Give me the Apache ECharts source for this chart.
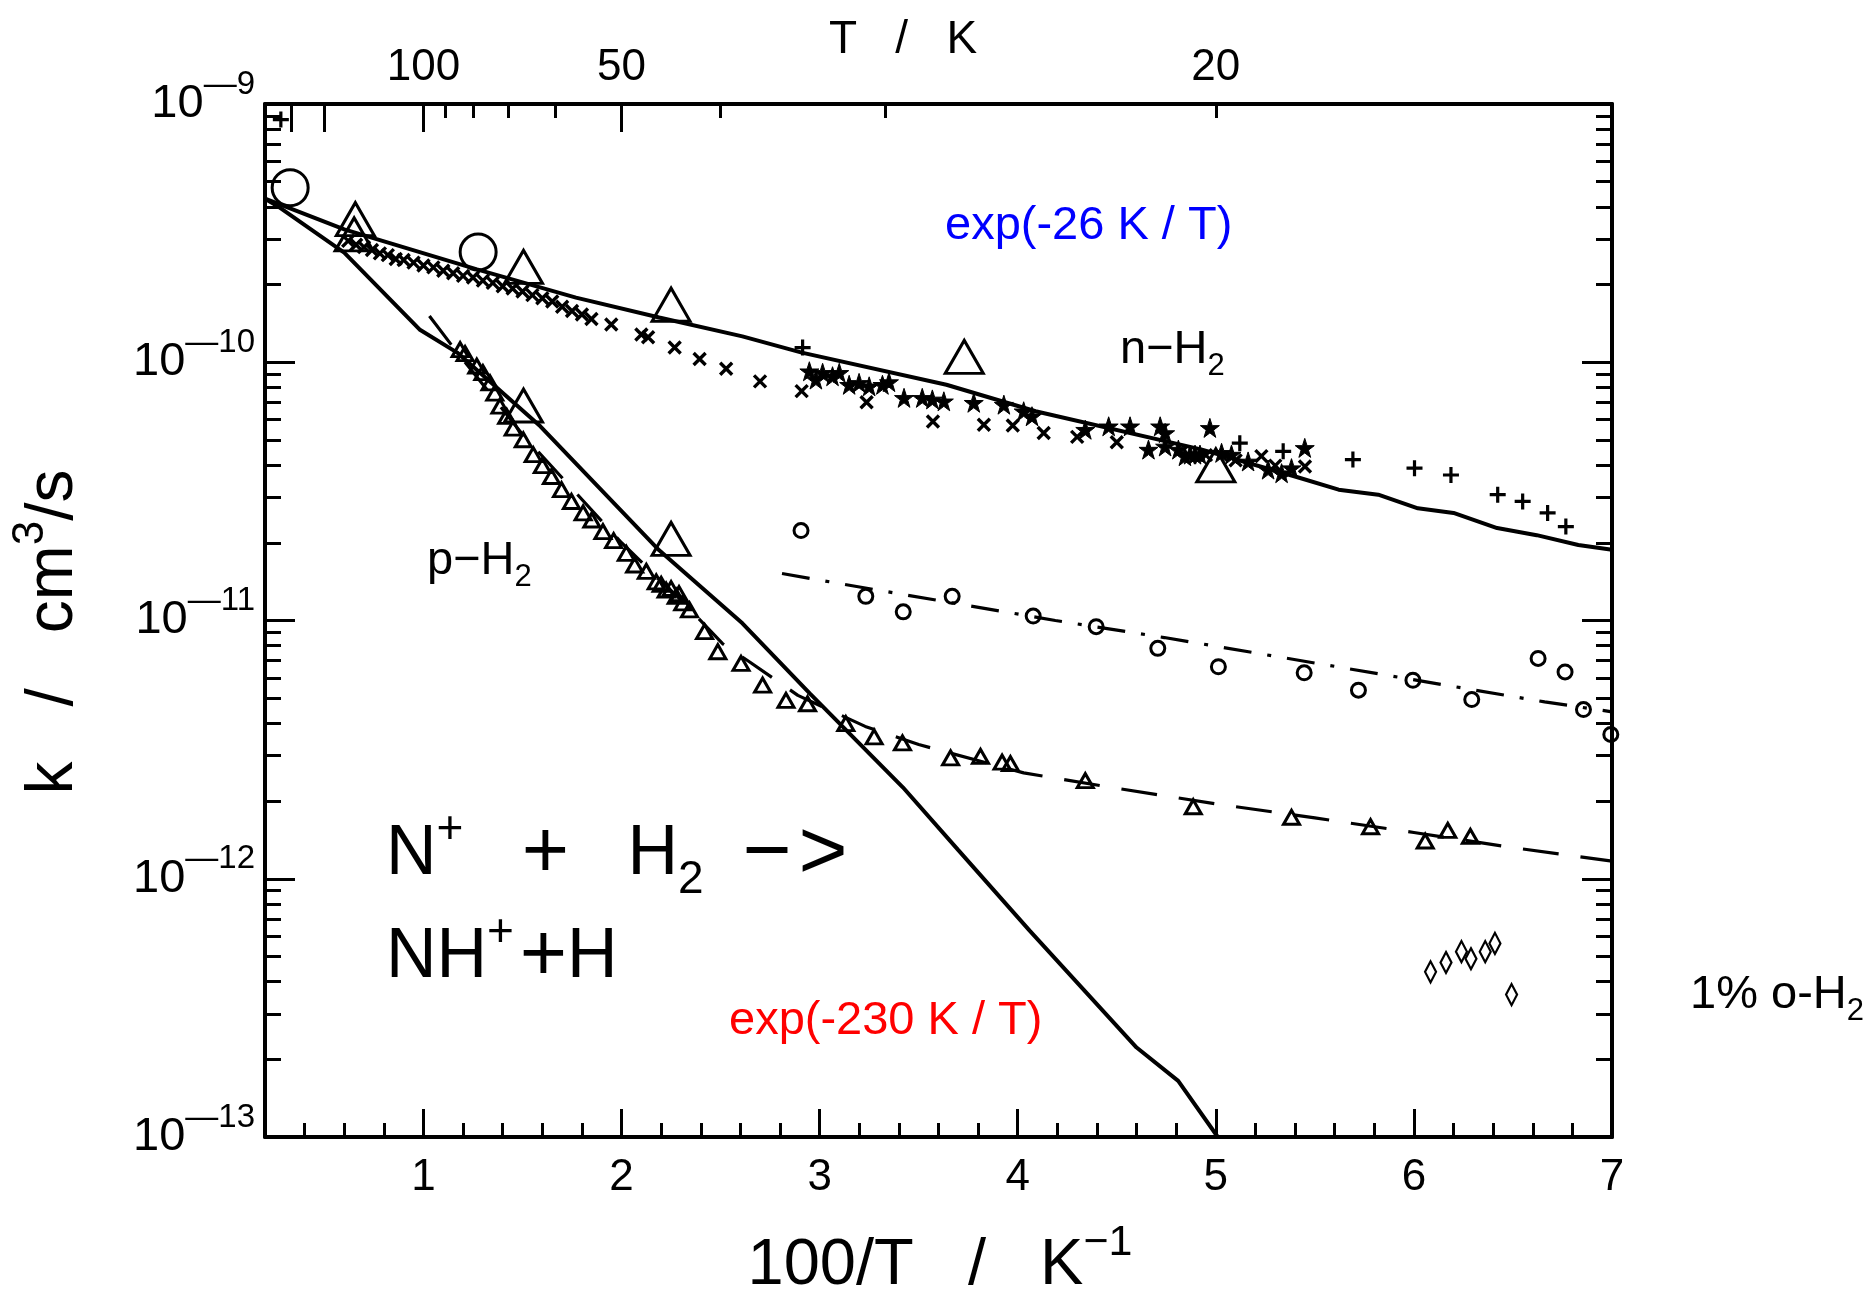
<!DOCTYPE html>
<html>
<head>
<meta charset="utf-8">
<script src="https://cdn.jsdelivr.net/npm/echarts@6/dist/echarts.min.js"></script>
<style>
  html, body { margin: 0; padding: 0; background: #fff; }
  #chart { width: 1871px; height: 1297px; }
</style>
</head>
<body>
<div id="chart"></div>
<script>
// Rate coefficient k (cm^3/s) of N+ + H2 -> NH+ + H versus 100/T (1/K).
// Every point is [100/T, k].

// Solid curve through the normal-H2 data
const curveNormalH2 = [
  [0.20, 4.30e-10], [0.60, 3.27e-10], [1.27, 2.29e-10], [1.77, 1.78e-10],
  [2.19, 1.49e-10], [2.61, 1.26e-10], [2.91, 1.09e-10], [3.64, 8.18e-11],
  [4.09, 6.46e-11], [4.93, 4.59e-11], [5.40, 3.61e-11], [5.62, 3.21e-11],
  [5.82, 3.07e-11], [6.02, 2.72e-11], [6.20, 2.61e-11], [6.42, 2.28e-11],
  [6.62, 2.14e-11], [6.83, 1.96e-11], [7.00, 1.88e-11]
];

// Solid curve through the para-H2 data
const curveParaH2 = [
  [0.20, 4.30e-10], [0.26, 4.04e-10], [0.60, 2.66e-10], [0.98, 1.34e-10],
  [1.17, 1.09e-10], [1.59, 5.65e-11], [2.19, 1.87e-11], [2.61, 9.75e-12],
  [2.95, 5.22e-12], [3.42, 2.26e-12], [3.70, 1.29e-12], [4.06, 6.30e-13],
  [4.60, 2.22e-13], [4.81, 1.65e-13], [5.01, 1.00e-13]
];

// Dashed fit through the small triangles
const fitParaDashed = [
  [1.03, 1.51e-10], [1.14, 1.17e-10], [1.50, 5.25e-11], [2.00, 2.00e-11],
  [2.30, 1.20e-11], [2.51, 8.13e-12], [2.645, 6.92e-12], [2.89, 5.13e-12],
  [3.23, 3.89e-12], [3.50, 3.31e-12], [4.03, 2.57e-12], [4.50, 2.24e-12],
  [5.00, 1.95e-12], [5.50, 1.72e-12], [6.00, 1.51e-12], [6.50, 1.32e-12],
  [7.00, 1.17e-12]
];

// Dash-dot fit through the small circles
const fitDashDot = [
  [2.81, 1.52e-11], [3.10, 1.39e-11], [4.19, 1.00e-11], [4.74, 8.59e-12],
  [6.66, 4.84e-12], [7.00, 4.43e-12]
];

const bigCircles = [[0.327, 4.74e-10], [1.276, 2.67e-10]];

const bigTriangles = [
  [0.656, 3.58e-10], [0.650, 3.13e-10], [1.505, 2.34e-10], [2.25, 1.67e-10],
  [3.73, 1.05e-10], [5.00, 3.99e-11], [1.505, 6.80e-11], [2.25, 2.07e-11]
];

const crossPoints = [
  [0.62, 2.95e-10], [0.66, 2.85e-10], [0.70, 2.79e-10], [0.74, 2.72e-10],
  [0.78, 2.64e-10], [0.82, 2.60e-10], [0.86, 2.51e-10], [0.90, 2.49e-10],
  [0.95, 2.43e-10], [1.00, 2.37e-10], [1.05, 2.33e-10], [1.10, 2.26e-10],
  [1.15, 2.21e-10], [1.20, 2.16e-10], [1.25, 2.13e-10], [1.30, 2.07e-10],
  [1.35, 2.03e-10], [1.40, 1.97e-10], [1.45, 1.93e-10], [1.50, 1.88e-10],
  [1.55, 1.82e-10], [1.60, 1.77e-10], [1.65, 1.72e-10], [1.70, 1.64e-10],
  [1.75, 1.58e-10], [1.80, 1.53e-10], [1.848, 1.47e-10], [1.948, 1.40e-10],
  [2.10, 1.28e-10], [2.134, 1.25e-10], [2.268, 1.14e-10], [2.394, 1.03e-10],
  [2.528, 9.44e-11], [2.699, 8.43e-11], [2.909, 7.73e-11], [3.237, 7.00e-11],
  [3.572, 5.90e-11], [3.829, 5.73e-11], [3.975, 5.69e-11], [4.131, 5.32e-11],
  [4.30, 5.14e-11], [4.50, 4.90e-11], [4.95, 4.37e-11], [5.10, 4.17e-11],
  [5.23, 4.33e-11], [5.30, 3.98e-11], [5.45, 3.95e-11]
];

const starPoints = [
  [2.948, 9.23e-11], [2.981, 8.57e-11], [3.015, 9.10e-11], [3.065, 8.83e-11],
  [3.099, 9.10e-11], [3.149, 8.18e-11], [3.199, 8.32e-11], [3.250, 8.07e-11],
  [3.317, 8.18e-11], [3.350, 8.38e-11], [3.426, 7.28e-11], [3.518, 7.28e-11],
  [3.569, 7.18e-11], [3.627, 7.06e-11], [3.778, 6.97e-11], [3.930, 6.85e-11],
  [4.030, 6.46e-11], [4.072, 6.18e-11], [4.341, 5.48e-11], [4.459, 5.65e-11],
  [4.567, 5.65e-11], [4.719, 5.65e-11], [4.660, 4.59e-11], [4.744, 4.72e-11],
  [4.811, 4.59e-11], [4.870, 4.39e-11], [4.920, 4.39e-11], [4.744, 5.32e-11],
  [4.844, 4.33e-11], [4.895, 4.39e-11], [4.970, 5.57e-11], [5.029, 4.46e-11],
  [5.079, 4.39e-11], [5.163, 4.13e-11], [5.264, 3.84e-11], [5.332, 3.72e-11],
  [5.382, 3.89e-11], [5.449, 4.66e-11]
];

const plusPoints = [
  [0.28, 8.70e-10], [2.914, 1.14e-10], [5.121, 4.86e-11], [5.340, 4.52e-11],
  [5.692, 4.20e-11], [6.003, 3.89e-11], [6.187, 3.66e-11], [6.423, 3.07e-11],
  [6.549, 2.89e-11], [6.675, 2.61e-11], [6.767, 2.31e-11]
];

const smallTriangles = [
  [1.185, 1.12e-10], [1.21, 1.08e-10], [1.269, 9.66e-11], [1.30, 9.12e-11],
  [1.336, 8.32e-11], [1.36, 7.59e-11], [1.386, 6.76e-11], [1.42, 6.17e-11],
  [1.453, 5.56e-11], [1.504, 5.01e-11], [1.554, 4.39e-11], [1.60, 3.98e-11],
  [1.646, 3.61e-11], [1.697, 3.21e-11], [1.747, 2.89e-11], [1.806, 2.61e-11],
  [1.85, 2.45e-11], [1.906, 2.21e-11], [1.96, 2.04e-11], [2.024, 1.82e-11],
  [2.066, 1.64e-11], [2.125, 1.55e-11], [2.175, 1.41e-11], [2.20, 1.38e-11],
  [2.225, 1.31e-11], [2.25, 1.33e-11], [2.276, 1.24e-11], [2.29, 1.27e-11],
  [2.309, 1.17e-11], [2.343, 1.10e-11], [2.419, 9.06e-12], [2.486, 7.57e-12],
  [2.603, 6.82e-12], [2.712, 5.62e-12], [2.830, 4.91e-12], [2.939, 4.76e-12],
  [3.132, 3.99e-12], [3.275, 3.54e-12], [3.418, 3.36e-12], [3.661, 2.94e-12],
  [3.812, 2.98e-12], [3.921, 2.83e-12], [3.963, 2.79e-12], [4.341, 2.40e-12],
  [4.886, 1.90e-12], [5.382, 1.73e-12], [5.781, 1.59e-12], [6.057, 1.40e-12],
  [6.171, 1.54e-12], [6.285, 1.46e-12]
];

const smallCircles = [
  [2.906, 2.23e-11], [3.233, 1.24e-11], [3.422, 1.08e-11], [3.669, 1.24e-11],
  [4.078, 1.04e-11], [4.396, 9.46e-12], [4.707, 7.80e-12], [5.013, 6.62e-12],
  [5.446, 6.27e-12], [5.720, 5.37e-12], [5.995, 5.87e-12], [6.292, 4.94e-12],
  [6.627, 7.13e-12], [6.763, 6.32e-12], [6.856, 4.52e-12], [6.994, 3.62e-12]
];

// 1% ortho-H2 admixture
const diamondPoints = [
  [6.084, 4.36e-13], [6.162, 4.74e-13], [6.240, 5.22e-13], [6.288, 4.90e-13],
  [6.360, 5.22e-13], [6.409, 5.62e-13], [6.493, 3.56e-13]
];

// Tick positions
const xMajorTicks = [1, 2, 3, 4, 5, 6, 7];
const xMinorTicks = [0.4, 0.6, 0.8, 1.2, 1.4, 1.6, 1.8, 2.2, 2.4, 2.6, 2.8,
  3.2, 3.4, 3.6, 3.8, 4.2, 4.4, 4.6, 4.8, 5.2, 5.4, 5.6, 5.8, 6.2, 6.4, 6.6, 6.8];
const tempMajorK = [300, 200, 100, 50];
const tempMinorK = [90, 80, 70, 60, 40, 30, 20];
const tempLabelK = [100, 50, 20];
const kDecades = [1e-13, 1e-12, 1e-11, 1e-10, 1e-9];
const kMinorSteps = [2, 3, 4, 5, 6, 7, 8, 9];

const FONT = '"Liberation Sans", Arial, Helvetica, sans-serif';
const X_MIN = 0.2, X_MAX = 7, K_MIN = 1e-13, K_MAX = 1e-9;

const kMinorTicks = [];
kDecades.slice(0, -1).forEach(d => kMinorSteps.forEach(m => kMinorTicks.push(m * d)));
const invT = t => 100 / t;

const AXIS_COLOR = '#000';
const tickStyle = { color: AXIS_COLOR, width: 3 };

function xAxisDef(position, ticks, len, showLine, labels) {
  return {
    type: 'value', position, min: X_MIN, max: X_MAX,
    axisLine: { show: showLine, lineStyle: { color: AXIS_COLOR, width: 4 } },
    axisTick: { show: true, inside: true, length: len, lineStyle: tickStyle, customValues: ticks },
    axisLabel: labels || { show: false },
    splitLine: { show: false }, minorTick: { show: false }
  };
}
function yAxisDef(position, ticks, len, showLine, labels) {
  return {
    type: 'log', logBase: 10, position, min: K_MIN, max: K_MAX,
    axisLine: { show: showLine, lineStyle: { color: AXIS_COLOR, width: 4 } },
    axisTick: { show: true, inside: true, length: len, lineStyle: tickStyle, customValues: ticks },
    axisLabel: labels || { show: false },
    splitLine: { show: false }
  };
}

const bottomLabels = {
  show: true, customValues: xMajorTicks, margin: 19,
  fontSize: 44, fontFamily: FONT, color: '#000'
};
const topLabels = {
  show: true, customValues: tempLabelK.map(invT), margin: 14,
  fontSize: 44, fontFamily: FONT, color: '#000',
  formatter: v => String(Math.round(100 / v))
};
const leftLabels = {
  show: true, customValues: kDecades, margin: 10,
  formatter: v => '{b|10}{e|\u2014' + (-Math.round(Math.log10(v))) + '}',
  rich: {
    b: { fontSize: 47, fontFamily: FONT, color: '#000', lineHeight: 72, verticalAlign: 'middle' },
    e: { fontSize: 33, fontFamily: FONT, color: '#000', lineHeight: 32, verticalAlign: 'top' }
  }
};

const STAR = 'path://M50,0 L61.8,35.1 L98.8,35.1 L68.9,56.8 L80.3,91.9 L50,70.2 L19.7,91.9 L31.1,56.8 L1.2,35.1 L38.2,35.1 Z';
const CROSS = 'path://M0,0 L10,10 M10,0 L0,10';
const PLUS = 'path://M5,0 L5,10 M0,5 L10,5';

function marks(data, symbol, size, filled, border) {
  return {
    type: 'scatter', data, symbol, symbolSize: size, z: 4, silent: true,
    xAxisIndex: 0, yAxisIndex: 0,
    itemStyle: {
      color: filled ? '#000' : 'rgba(0,0,0,0)', borderColor: '#000',
      borderWidth: border, opacity: 1
    },
    emphasis: { disabled: true }
  };
}
function curve(data, width, type) {
  return {
    type: 'line', data, symbol: 'none', smooth: false, z: 3, silent: true,
    xAxisIndex: 0, yAxisIndex: 0,
    lineStyle: { color: '#000', width, type, cap: 'butt' },
    emphasis: { disabled: true }
  };
}

// Text helpers: y is the vertical middle of the capital letters
function txt(x, y, text, size, color, align) {
  return {
    type: 'text', x, y, silent: true,
    style: {
      text, fill: color, font: size + 'px ' + FONT,
      align: align, textAlign: align, verticalAlign: 'middle', textVerticalAlign: 'middle'
    }
  };
}
function richTxt(x, y, text, size, align, rotation) {
  const big = Math.round(size * 1.37), supSize = Math.round(size * 0.66);
  const tok = (fontSize, lineHeight, verticalAlign) => ({
    fontSize, fontFamily: FONT, fill: '#000', color: '#000', lineHeight, verticalAlign
  });
  return {
    type: 'text', x, y, silent: true, rotation: rotation || 0,
    style: {
      text, fill: '#000', align, textAlign: align,
      verticalAlign: 'middle', textVerticalAlign: 'middle',
      rich: {
        b: tok(size, big, 'middle'),
        p: tok(Math.round(size * 1.15), big, 'middle'),
        c: tok(Math.round(size * 1.2), big, 'middle'),
        sup: tok(supSize, Math.round(size * 0.71), 'top'),
        sub: tok(supSize, Math.round(size * 0.6), 'bottom')
      }
    }
  };
}

const chart = echarts.init(document.getElementById('chart'), null, { renderer: 'canvas' });
chart.setOption({
  animation: false,
  backgroundColor: '#fff',
  grid: { left: 265, top: 104, width: 1347, height: 1033, show: false },
  xAxis: [
    xAxisDef('bottom', xMajorTicks, 28, true, bottomLabels),
    xAxisDef('bottom', xMinorTicks, 14, false),
    xAxisDef('top', tempMajorK.map(invT), 28, true, topLabels),
    xAxisDef('top', tempMinorK.map(invT), 14, false)
  ],
  yAxis: [
    yAxisDef('left', kDecades, 30, true, leftLabels),
    yAxisDef('left', kMinorTicks, 16, false),
    yAxisDef('right', kDecades, 30, true),
    yAxisDef('right', kMinorTicks, 16, false)
  ],
  series: [
    curve(curveNormalH2, 4, 'solid'),
    curve(curveParaH2, 4, 'solid'),
    curve(fitParaDashed, 3.2, [36, 22]),
    curve(fitDashDot, 3.2, [28, 16, 4, 16]),
    marks(bigCircles, 'circle', 36, false, 3),
    marks(bigTriangles, 'triangle', [38, 33], false, 3),
    marks(crossPoints, CROSS, 12, false, 3.4),
    marks(starPoints, STAR, 19, true, 1),
    marks(plusPoints, PLUS, 16, false, 3.2),
    marks(smallTriangles, 'triangle', [16, 14], false, 3),
    marks(smallCircles, 'circle', 14, false, 3),
    marks(diamondPoints, 'diamond', [11, 21], false, 2.4)
  ],
  graphic: [
    // axis titles
    txt(903, 40, 'T   /   K', 46, '#000', 'center'),
    richTxt(940, 1266, '{b|100/T   /   K}{sup|\u22121}', 65, 'center'),
    richTxt(54, 632, '{b|k   /   cm}{sup|3}{b|/s}', 66, 'center', Math.PI / 2),
    // curve annotations
    txt(945, 226, 'exp(-26 K / T)', 47, '#0000ff', 'left'),
    txt(729, 1021, 'exp(-230 K / T)', 47, '#ff0000', 'left'),
    richTxt(1690, 995, '{b|1% o-H}{sub|2}', 47, 'left'),
    richTxt(1120, 350, '{b|n\u2212H}{sub|2}', 47, 'left'),
    richTxt(427, 561, '{b|p\u2212H}{sub|2}', 47, 'left'),
    // reaction
    richTxt(386, 855, '{b|N}{sup|+}{b|   }{p|+}{b|   H}{sub|2}{b|  }{c|\u2212\u200A>}', 70, 'left'),
    richTxt(386, 958, '{b|NH}{sup|+}{b|\u200A}{p|+}{b|H}', 70, 'left')
  ]
});
</script>
</body>
</html>
